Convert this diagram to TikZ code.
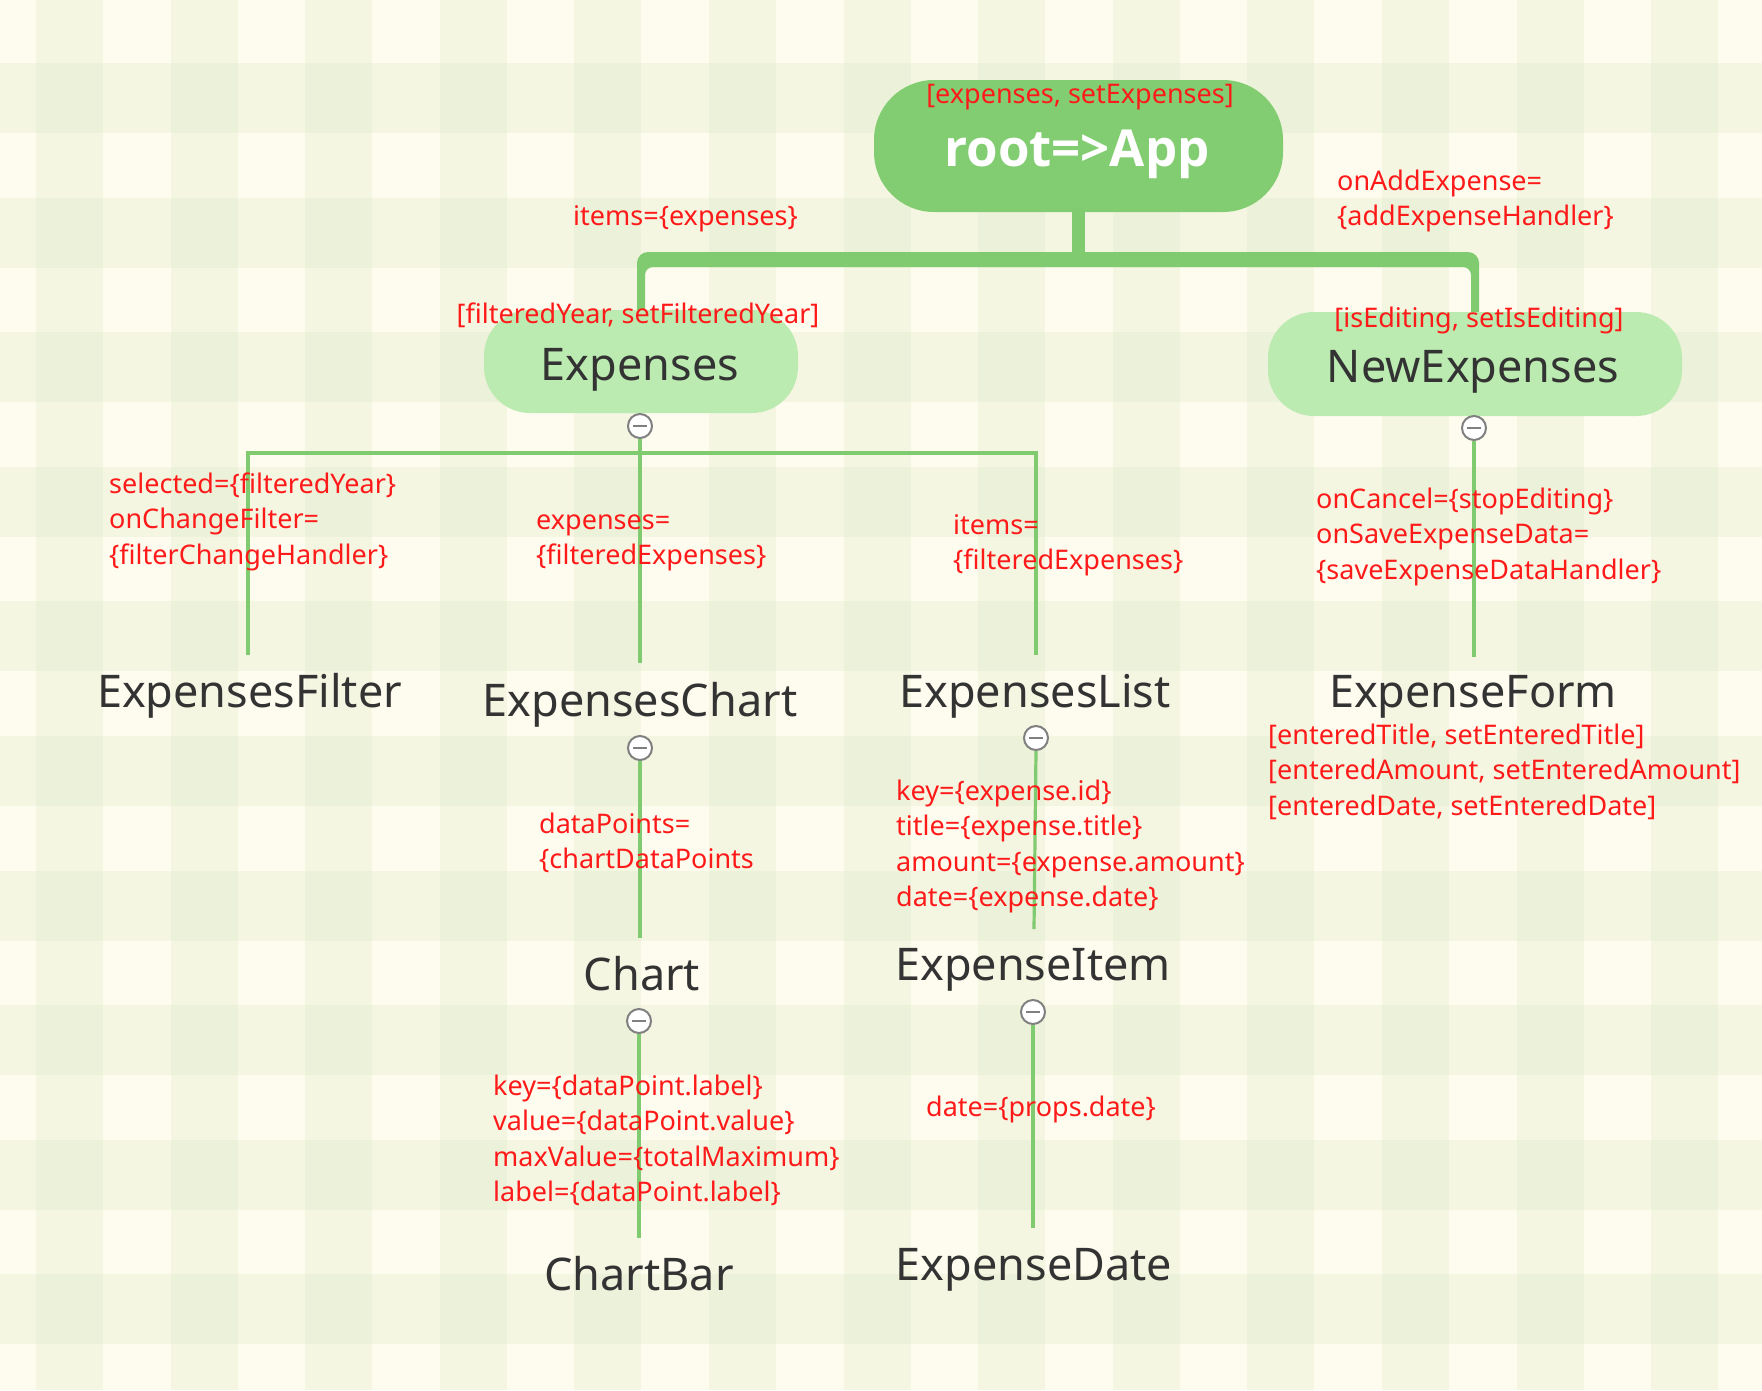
\documentclass[tikz,border=0pt]{standalone}
\usepackage{fontspec}
\setmainfont{Noto Sans}
\newfontfamily\rootfont{Open Sans}
\usetikzlibrary{calc}
\definecolor{bgbase}{RGB}{254,252,238}
\definecolor{band}{RGB}{210,224,186}
\definecolor{lnk}{RGB}{128,202,111}
\definecolor{rootc}{RGB}{130,205,113}
\definecolor{pillc}{RGB}{188,235,177}
\definecolor{lbl}{RGB}{255,26,26}
\definecolor{dark}{RGB}{51,51,51}
\definecolor{ringc}{RGB}{128,128,128}
\tikzset{
  lbltext/.style={text=lbl, font=\fontsize{27}{35.5}\selectfont, align=left, inner sep=0pt, anchor=base west},
  toplbl/.style={text=lbl, font=\fontsize{27}{35.5}\selectfont, inner sep=0pt, anchor=base},
  comp/.style={text=dark, font=\fontsize{45}{54}\selectfont, inner sep=0pt, anchor=base},
  pill/.style={fill=pillc, draw=none, rounded corners=46pt, inner sep=0pt},
  link/.style={draw=lnk, line width=3.2pt},
  toggle/.style={circle, draw=ringc, fill=white, line width=2pt, minimum size=24pt, inner sep=0pt,
    path picture={\draw[ringc, line width=2.5pt] ($(path picture bounding box.west)+(5pt,0)$) -- ($(path picture bounding box.east)+(-5pt,0)$);}},
}
\begin{document}
\begin{tikzpicture}[x=1pt,y=-1pt]
\useasboundingbox (0,0) rectangle (1762,1390);
\begin{scope}
\clip (0,0) rectangle (1762,1390);
\fill[bgbase] (0,0) rectangle (1762,1390);
\foreach \i in {0,...,12} {
  \fill[band, opacity=.21] ({36+134.6*\i},0) rectangle ++(67,1390);
}
\foreach \i in {0,...,9} {
  \fill[band, opacity=.21] (0,{63+134.6*\i}) rectangle ++(1762,70);
}
\end{scope}

% root
\node[fill=rootc, rounded corners=60pt, minimum width=409pt, minimum height=132pt, inner sep=0pt] (app) at (1078.5,146) {};
\node[text=white, font=\fontsize{51}{60}\rootfont\bfseries, inner sep=0pt, anchor=base] (apptxt) at (1077,166) {root=>App};
\node[toplbl] (applbl) at (1080,103) {[expenses, setExpenses]};

% stem and bar
\fill[lnk] (1071.5,208) rectangle (1084.5,256);
\fill[lnk] (637,312) [rounded corners=11pt] -- (637,252) -- (1479,252) [sharp corners] -- (1479,314) -- (1471,314) [rounded corners=8pt] -- (1471,267) -- (645,267) [sharp corners] -- (645,312) -- cycle;

% second level pills
\node[pill, minimum width=314pt, minimum height=103pt] (exp) at (641,361.5) {};
\node[comp] (exptxt) at (640,380) {Expenses};
\node[toplbl] (explbl) at (638,323) {[filteredYear, setFilteredYear]};

\node[pill, minimum width=414pt, minimum height=104pt] (newexp) at (1475,364) {};
\node[comp] (newexptxt) at (1473,382) {NewExpenses};
\node[toplbl] (newexplbl) at (1479,327) {[isEditing, setIsEditing]};

\node[lbltext] (l1) at (573,225) {items=\{expenses\}};
\node[lbltext] (l2) at (1337,225.5) {onAddExpense=\\\{addExpenseHandler\}};

% toggles
\node[toggle] (t1) at (640,426) {};
\node[toggle] (t2) at (1474,428) {};
\node[toggle] (t3) at (640,748) {};
\node[toggle] (t4) at (1036,738) {};
\node[toggle] (t5) at (639,1021) {};
\node[toggle] (t6) at (1033,1012) {};

% line ends
\coordinate (fEnd) at (248,655);
\coordinate (lEnd) at (1036,655);
\coordinate (split) at (640,453);
\coordinate (cEnd) at (640,663);
\coordinate (fmEnd) at (1474,657);
\coordinate (chEnd) at (640,938);
\coordinate (barEnd) at (639,1238);
\coordinate (itEnd) at (1034,929);
\coordinate (dtEnd) at (1033,1228);

\draw[link] (fEnd) |- (split) -| (lEnd);
\draw[link] (t1.south) -- (cEnd);
\draw[link] (t2.south) -- (fmEnd);
\draw[link] (t3.south) -- (chEnd);
\draw[link] (t5.south) -- (barEnd);
\draw[link] (t4.south) -- (itEnd);
\draw[link] (t6.south) -- (dtEnd);

% components
\node[comp] (filter) at (249.5,707) {ExpensesFilter};
\node[comp] (chartc) at (640,716) {ExpensesChart};
\node[comp] (list) at (1035,707) {ExpensesList};
\node[comp] (form) at (1473,707) {ExpenseForm};
\node[comp] (chart) at (642,990) {Chart};
\node[comp] (item) at (1033,980) {ExpenseItem};
\node[comp] (bar) at (639,1290) {ChartBar};
\node[comp] (date) at (1034,1280) {ExpenseDate};

% labels (anchor = baseline of the last line)
\node[lbltext] (l3) at (109,564) {selected=\{filteredYear\}\\onChangeFilter=\\\{filterChangeHandler\}};
\node[lbltext] (l4) at (536,564.5) {expenses=\\\{filteredExpenses\}};
\node[lbltext] (l5) at (953,569.5) {items=\\\{filteredExpenses\}};
\node[lbltext] (l6) at (1316,579) {onCancel=\{stopEditing\}\\onSaveExpenseData=\\\{saveExpenseDataHandler\}};
\node[lbltext] (l7) at (539,868.5) {dataPoints=\\\{chartDataPoints};
\node[lbltext] (l8) at (896,906.5) {key=\{expense.id\}\\title=\{expense.title\}\\amount=\{expense.amount\}\\date=\{expense.date\}};
\node[lbltext] (l9) at (1268,815) {{[}enteredTitle, setEnteredTitle{]}\\{[}enteredAmount, setEnteredAmount{]}\\{[}enteredDate, setEnteredDate{]}};
\node[lbltext] (l10) at (493,1201.5) {key=\{dataPoint.label\}\\value=\{dataPoint.value\}\\maxValue=\{totalMaximum\}\\label=\{dataPoint.label\}};
\node[lbltext] (l11) at (926,1116) {date=\{props.date\}};
\end{tikzpicture}
\end{document}
